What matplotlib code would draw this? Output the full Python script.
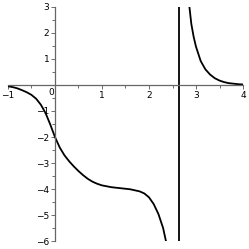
import matplotlib
matplotlib.use("Agg")
import matplotlib.pyplot as plt
from matplotlib.ticker import MultipleLocator

# left branch
x_left = [-1.0, -0.9, -0.8, -0.7, -0.6, -0.5, -0.4, -0.3, -0.2, -0.1, 0.0,
          0.1, 0.2, 0.3, 0.4, 0.5, 0.6, 0.7, 0.8, 0.9, 1.0, 1.2, 1.4, 1.6,
          1.8, 1.9, 2.0, 2.1, 2.2, 2.3, 2.36]
y_left = [-0.05, -0.08, -0.13, -0.2, -0.28, -0.38, -0.53, -0.76, -1.08, -1.52, -2.0,
          -2.4, -2.7, -2.93, -3.13, -3.31, -3.47, -3.61, -3.72, -3.8, -3.86, -3.93,
          -3.97, -4.01, -4.09, -4.17, -4.32, -4.58, -4.96, -5.5, -6.0]

# right branch
x_right = [2.86, 2.9, 2.95, 3.0, 3.1, 3.2, 3.3, 3.4, 3.5, 3.6, 3.7, 3.8, 3.9, 4.0]
y_right = [3.0, 2.35, 1.85, 1.47, 0.92, 0.6, 0.4, 0.26, 0.17, 0.11, 0.07, 0.05, 0.03, 0.02]

x_asym = 2.64

xticks = [-1, 1, 2, 3, 4]
yticks = [-6, -5, -4, -3, -2, -1, 1, 2, 3]

fig = plt.figure(figsize=(2.49, 2.49), dpi=100)
ax = fig.add_axes([0.032, 0.032, 0.944, 0.94])

ax.plot(x_left, y_left, color="black", linewidth=1.3)
ax.plot(x_right, y_right, color="black", linewidth=1.3)
ax.plot([x_asym, x_asym], [-6, 3], color="black", linewidth=1.3)

ax.set_xlim(-1, 4)
ax.set_ylim(-6, 3)

for s in ["top", "right"]:
    ax.spines[s].set_visible(False)
ax.spines["left"].set_position(("data", 0))
ax.spines["bottom"].set_position(("data", 0))
for s in ["left", "bottom"]:
    ax.spines[s].set_color("#666666")
    ax.spines[s].set_linewidth(0.9)

ax.set_xticks(xticks)
ax.set_yticks(yticks)
ax.xaxis.set_minor_locator(MultipleLocator(0.5))
ax.yaxis.set_minor_locator(MultipleLocator(0.5))
ax.tick_params(which="both", direction="out", color="#555555", width=0.6,
               labelsize=6.5, pad=1)
ax.tick_params(which="major", length=3)
ax.tick_params(which="minor", length=2)
ax.text(-0.02, -0.12, "0", fontsize=6.5, ha="right", va="top")

fig.savefig("out.png", dpi=100)
